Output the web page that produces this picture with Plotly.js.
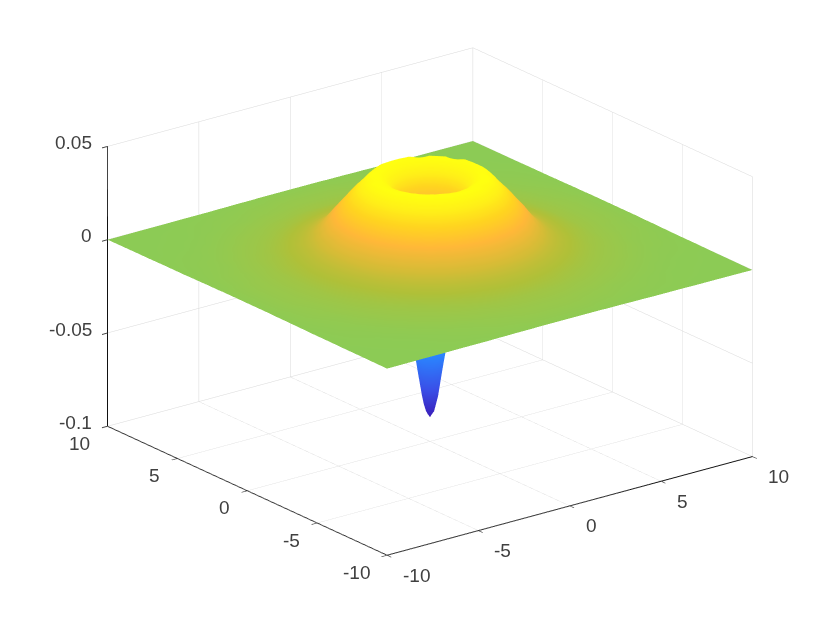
<!DOCTYPE html>
<html>
<head>
<meta charset="utf-8">
<script src="https://cdn.plot.ly/plotly-2.35.2.min.js"></script>
<style>html,body{margin:0;padding:0;background:#fff}</style>
</head>
<body>
<div id="gd" style="width:830px;height:623px"></div>
<script>
"use strict"

// grid positions of one quadrant, the surface is the same in all four
var gridPos = [0,0.125,0.25,0.5,0.75,1,1.25,1.5,1.75,2,2.5,2.75,3,3.5,4,4.5,5,5.5,6,7,8,10];

// surface height in thousandths
var zQuadrant = [
	[-87,-85,-81,-65,-47,-12,14,32,38,40.8,42.3,40.6,37,31.5,24.5,17.4,11,8,6,3.2,1.9,0.5],
	[-85,-83.8,-79.5,-64,-46,-11,14.5,32.2,38.2,40.8,42.3,40.6,37,31.5,24.5,17.4,11,8,6,3.2,1.9,0.5],
	[-81,-79.5,-75.5,-61,-41.5,-8,15.5,33,38.4,41,42.3,40.5,37,31.3,24.3,17.3,11,8,6,3.2,1.9,0.5],
	[-65,-64,-61,-50,-26,1.5,22,34.5,39,41.2,42.1,40,36.5,31,24,17,10.9,7.9,6,3.2,1.9,0.5],
	[-47,-46,-41.5,-26,-4,14,29.5,37,40,41.7,42,39.4,36,30.2,23.3,16.4,10.6,7.8,5.8,3.1,1.9,0.5],
	[-12,-11,-8,1.5,14,26,35,38.8,41,42.2,41.2,38.5,35.3,29.6,22.8,15.4,10.3,7.6,5.7,3.1,1.9,0.5],
	[14,14.5,15.5,22,29.5,35,38.4,40.4,41.8,42.3,40,37,34.4,28.5,21.8,14.5,10,7.3,5.5,3,1.8,0.5],
	[32,32.2,33,34.5,37,38.8,40.4,41.6,42.3,42.3,38.6,35.6,33,27.3,21,13.8,9.5,7,5.4,3,1.8,0.5],
	[38,38.2,38.4,39,40,41,41.8,42.3,42.3,41.5,36.7,34.3,31.8,25.9,19.4,12.8,9,6.8,5.1,2.9,1.7,0.5],
	[40.8,40.8,41,41.2,41.7,42.2,42.3,42.3,41.5,39.6,35,32.5,30,24,18,11.8,8.4,6.4,5,2.8,1.6,0.4],
	[42.3,42.3,42.3,42.1,42,41.2,40,38.6,36.7,35,31,28.5,26,20.5,14,10,7.5,5.8,4.4,2.5,1.5,0.4],
	[40.6,40.6,40.5,40,39.4,38.5,37,35.6,34.3,32.5,28.5,26.1,23.4,18.4,12.5,9.2,7,5.5,4.1,2.4,1.4,0.4],
	[37,37,37,36.5,36,35.3,34.4,33,31.8,30,26,23.4,21,15.5,11,8.4,6.6,5.1,3.9,2.3,1.4,0.4],
	[31.5,31.5,31.3,31,30.2,29.6,28.5,27.3,25.9,24,20.5,18.4,15.5,11.5,8.9,7,5.6,4.4,3.3,2.1,1.2,0.3],
	[24.5,24.5,24.3,24,23.3,22.8,21.8,21,19.4,18,14,12.5,11,8.9,7.2,5.9,4.7,3.7,2.9,1.8,1,0.3],
	[17.4,17.4,17.3,17,16.4,15.4,14.5,13.8,12.8,11.8,10,9.2,8.4,7,5.9,4.8,3.8,3,2.4,1.6,0.9,0.2],
	[11,11,11,10.9,10.6,10.3,10,9.5,9,8.4,7.5,7,6.6,5.6,4.7,3.8,3.1,2.5,2.1,1.3,0.8,0.2],
	[8,8,8,7.9,7.8,7.6,7.3,7,6.8,6.4,5.8,5.5,5.1,4.4,3.7,3,2.5,2.1,1.8,1.1,0.6,0.2],
	[6,6,6,6,5.8,5.7,5.5,5.4,5.1,5,4.4,4.1,3.9,3.3,2.9,2.4,2.1,1.8,1.4,0.9,0.5,0.2],
	[3.2,3.2,3.2,3.2,3.1,3.1,3,3,2.9,2.8,2.5,2.4,2.3,2.1,1.8,1.6,1.3,1.1,0.9,0.5,0.3,0.1],
	[1.9,1.9,1.9,1.9,1.9,1.9,1.8,1.8,1.7,1.6,1.5,1.4,1.4,1.2,1,0.9,0.8,0.6,0.5,0.3,0.2,0.1],
	[0.5,0.5,0.5,0.5,0.5,0.5,0.5,0.5,0.5,0.4,0.4,0.4,0.4,0.3,0.3,0.2,0.2,0.2,0.2,0.1,0.1,0]
];

var xyTicks = [-10,-5,0,5,10];
var zTicks = [-0.1,-0.05,0,0.05];
var zTickText = ['-0.1','-0.05','0','0.05'];

var colors = [
	[0,'#3a1cb8'],[0.13,'#3a50e8'],[0.28,'#2a86ff'],[0.5,'#30c0c0'],[0.62,'#6cc870'],
	[0.673,'#8ccb55'],[0.688,'#98c84c'],[0.719,'#b0c038'],[0.765,'#d4bc36'],[0.842,'#ffb838'],
	[0.904,'#ffd420'],[0.958,'#fff018'],[1,'#ffff10']
];

var labelFont = {family: 'Liberation Sans, Arial, sans-serif', size: 19, color: '#404040'};

// mirror the quadrant round both axes
function mirror(row){
	return row.slice(1).reverse().concat(row);
}
var axisPos = gridPos.slice(1).map(function(v){return -v;}).reverse().concat(gridPos);
var zGrid = mirror(zQuadrant.map(mirror)).map(function(row){
	return row.map(function(v){return v/1000;});
});

var surface = {
	type: 'surface',
	x: axisPos,
	y: axisPos,
	z: zGrid,
	cmin: -0.0875,
	cmax: 0.0425,
	colorscale: colors,
	showscale: false,
	hoverinfo: 'skip',
	lighting: {ambient: 1, diffuse: 0, specular: 0, roughness: 1, fresnel: 0}
};

function axis(range, tickvals){
	return {
		title: {text: ''},
		range: range,
		tickmode: 'array',
		tickvals: tickvals,
		showticklabels: false,
		showgrid: true,
		gridcolor: '#d8d8d8',
		gridwidth: 1,
		showline: true,
		linecolor: '#111111',
		linewidth: 2,
		ticks: 'outside',
		ticklen: 7,
		tickcolor: '#444444',
		tickwidth: 2,
		showbackground: false,
		showspikes: false,
		zeroline: false
	};
}

// tick labels sit on the scene, so they follow the axes
var tickLabels = [];
xyTicks.forEach(function(v){
	tickLabels.push({x: v, y: -10, z: -0.1, text: String(v), showarrow: false, font: labelFont,
		xanchor: 'left', yanchor: 'middle', xshift: 14, yshift: -20});
	tickLabels.push({x: -10, y: v, z: -0.1, text: String(v), showarrow: false, font: labelFont,
		xanchor: 'right', yanchor: 'middle', xshift: -15, yshift: -17});
});
zTicks.forEach(function(v, i){
	tickLabels.push({x: -10, y: 10, z: v, text: zTickText[i], showarrow: false, font: labelFont,
		xanchor: 'right', yanchor: 'middle', xshift: -13, yshift: 4});
});

var layout = {
	width: 830,
	height: 623,
	margin: {l: 0, r: 0, t: 0, b: 0},
	paper_bgcolor: '#ffffff',
	showlegend: false,
	scene: {
		domain: {x: [0.036, 1], y: [0.032, 1]},
		aspectmode: 'manual',
		aspectratio: {x: 1.526, y: 1.526, z: 0.992},
		camera: {
			projection: {type: 'orthographic'},
			eye: {x: -1.53, y: -2.0, z: 0.95},
			center: {x: 0, y: 0, z: 0},
			up: {x: 0, y: 0, z: 1}
		},
		xaxis: axis([-10,10], xyTicks),
		yaxis: axis([-10,10], xyTicks),
		zaxis: axis([-0.1,0.05], zTicks),
		annotations: tickLabels
	}
};

Plotly.newPlot('gd', [surface], layout, {displayModeBar: false});
</script>
</body>
</html>
